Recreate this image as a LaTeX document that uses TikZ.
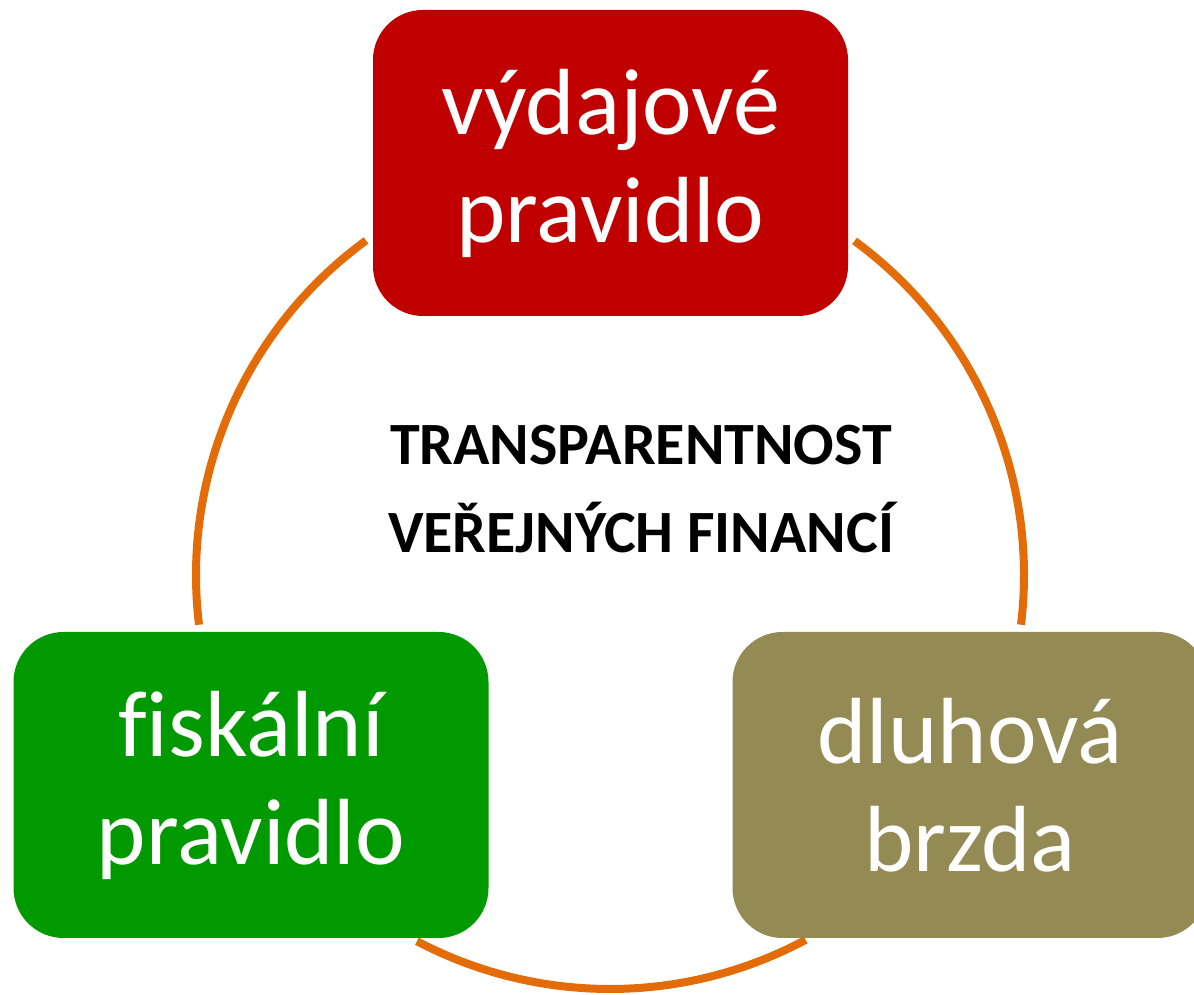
\documentclass[tikz,border=0pt]{standalone}
\usepackage{fontspec}
\setmainfont{Carlito}[Ligatures=NoCommon]
\definecolor{boxred}{RGB}{192,0,0}
\definecolor{boxgreen}{RGB}{0,153,0}
\definecolor{boxolive}{RGB}{148,138,84}
\definecolor{ringorange}{RGB}{227,108,9}
\tikzset{
  rulebox/.style={rounded corners=25pt, minimum width=237.5pt, minimum height=153pt,
    inner sep=0pt, text=white, align=center,
    font=\fontsize{47pt}{54pt}\selectfont},
  ring/.style={draw=ringorange, line width=4pt},
  centertext/.style={align=center, font=\bfseries\fontsize{30pt}{44pt}\selectfont}
}
\begin{document}
\begin{tikzpicture}[x=0.5pt,y=0.5pt]
\useasboundingbox (0,0) rectangle (1194,995);
\clip (0,0) rectangle (1194,995);
\coordinate (c) at (610,420);
% ring arcs
\draw[ring] (c) ++(126.1:207pt) arc[start angle=126.1, end angle=186.9, radius=207pt];
\draw[ring] (c) ++(53.8:207pt) arc[start angle=53.8, end angle=-6.9, radius=207pt];
\draw[ring] (c) ++(242.2:207pt) arc[start angle=242.2, end angle=298.2, radius=207pt];
% boxes
\node[rulebox, fill=boxred] (vydaj) at (610.5,832) {výdajové\\pravidlo};
\node[rulebox, fill=boxgreen] (fisk) at (251,210) {fiskální\\pravidlo};
\node[rulebox, fill=boxolive] (dluh) at (970,210) {dluhová\\brzda};
% centre text
\node[centertext] (transp) at (641,506) {TRANSPARENTNOST\\VEŘEJNÝCH FINANCÍ};
\end{tikzpicture}
\end{document}
